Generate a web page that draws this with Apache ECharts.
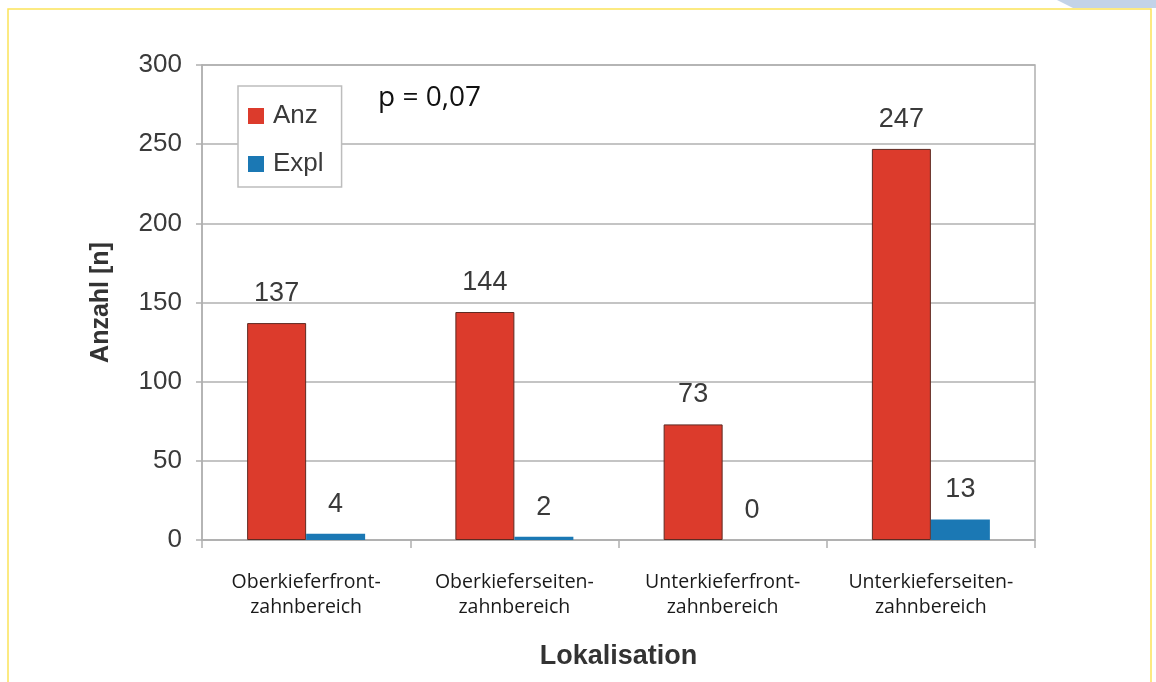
<!DOCTYPE html>
<html>
<head>
<meta charset="utf-8">
<script src="https://cdn.jsdelivr.net/npm/echarts@6/dist/echarts.min.js"></script>
<style>
  html, body { margin: 0; padding: 0; background: #fff; }
  #chart { width: 1156px; height: 682px; }
</style>
</head>
<body>
<div id="chart"></div>
<script>
// data
const categories = [
  'Oberkieferfront-\nzahnbereich',
  'Oberkieferseiten-\nzahnbereich',
  'Unterkieferfront-\nzahnbereich',
  'Unterkieferseiten-\nzahnbereich'
]
const anzValues = [137, 144, 73, 247]
const explValues = [4, 2, 0, 13]
const yTicks = [0, 50, 100, 150, 200, 250, 300]

const mChart = echarts.init(document.getElementById('chart'))

const labelStyle = {
  show: true,
  position: 'top',
  distance: 16,
  color: '#3a3a3a',
  fontFamily: 'Liberation Sans',
  fontSize: 27
}

const options = {
  backgroundColor: '#fff',
  animation: false,
  // yellow frame + watermark remains
  graphic: [
    {
      type: 'rect',
      shape: {x: 8, y: 9, width: 1143, height: 700},
      style: {fill: 'none', stroke: '#fbe45a', lineWidth: 1.5},
      z: -1
    },
    {
      type: 'polygon',
      shape: {points: [[1057, 0], [1156, 0], [1156, 8], [1073, 8]]},
      style: {fill: '#c3d3e8'},
      z: -1
    },
    {
      type: 'text',
      left: 378,
      top: 84,
      style: {
        text: 'p = 0,07',
        fill: '#111',
        font: '28px "Open Sans"'
      }
    }
  ],
  grid: {
    left: 202,
    top: 65,
    right: 121,
    bottom: 142,
    show: true,
    borderColor: '#b0b0b0',
    borderWidth: 1.5
  },
  legend: {
    orient: 'vertical',
    left: 238,
    top: 86,
    padding: [17, 18, 10, 10],
    itemWidth: 16,
    itemHeight: 16,
    itemGap: 22,
    backgroundColor: '#fff',
    borderColor: '#bdbdbd',
    borderWidth: 1.5,
    icon: 'rect',
    itemStyle: {borderWidth: 0},
    textStyle: {
      color: '#3a3a3a',
      fontFamily: 'Liberation Sans',
      fontSize: 26,
      padding: [0, 0, 0, 4]
    },
    data: ['Anz', 'Expl']
  },
  xAxis: {
    type: 'category',
    data: categories,
    name: 'Lokalisation',
    nameLocation: 'middle',
    nameGap: 103,
    nameTextStyle: {
      color: '#333',
      fontFamily: 'Liberation Sans',
      fontWeight: 'bold',
      fontSize: 27
    },
    axisLine: {lineStyle: {color: '#b0b0b0', width: 1.5}},
    axisTick: {show: true, interval: 0, length: 8, lineStyle: {color: '#b0b0b0', width: 1.5}},
    axisLabel: {
      interval: 0,
      margin: 30,
      color: '#1a1a1a',
      fontFamily: 'Open Sans',
      fontSize: 19.5,
      lineHeight: 25
    }
  },
  yAxis: {
    type: 'value',
    min: 0,
    max: 300,
    interval: 50,
    name: 'Anzahl [n]',
    nameLocation: 'middle',
    nameGap: 88,
    nameTextStyle: {
      color: '#333',
      fontFamily: 'Liberation Sans',
      fontWeight: 'bold',
      fontSize: 25
    },
    axisLine: {show: true, lineStyle: {color: '#b0b0b0', width: 1.5}},
    axisTick: {show: true, length: 6, lineStyle: {color: '#b0b0b0', width: 1.5}},
    splitLine: {lineStyle: {color: '#b0b0b0', width: 1.5}},
    axisLabel: {
      margin: 20,
      color: '#3a3a3a',
      fontFamily: 'Liberation Sans',
      fontSize: 26,
      formatter: v => (yTicks.includes(v) ? String(v) : '')
    }
  },
  series: [
    {
      name: 'Anz',
      type: 'bar',
      data: anzValues,
      barWidth: 59,
      barGap: '0%',
      itemStyle: {color: '#dc3b2c', borderColor: '#5e2a22', borderWidth: 1},
      label: labelStyle
    },
    {
      name: 'Expl',
      type: 'bar',
      data: explValues,
      barWidth: 59,
      barGap: '0%',
      itemStyle: {color: '#1b78b4'},
      label: labelStyle
    }
  ]
}

mChart.setOption(options)
</script>
</body>
</html>
